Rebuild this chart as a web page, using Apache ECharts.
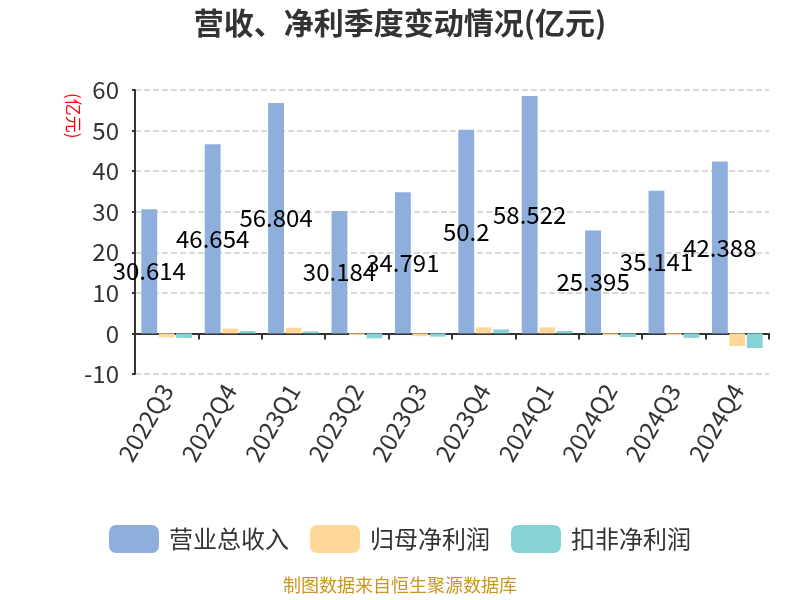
<!DOCTYPE html>
<html>
<head>
<meta charset="utf-8">
<script src="https://cdn.jsdelivr.net/npm/echarts@6/dist/echarts.min.js"></script>
<style>html,body{margin:0;padding:0;background:#fff;}#c{width:800px;height:600px;}</style>
</head>
<body>
<div id="c"></div>
<script>
var categories = ['2022Q3','2022Q4','2023Q1','2023Q2','2023Q3','2023Q4','2024Q1','2024Q2','2024Q3','2024Q4'];
var revenue = [30.614, 46.654, 56.804, 30.184, 34.791, 50.2, 58.522, 25.395, 35.141, 42.388];
var netProfit = [-1.0, 1.2, 1.4, -0.4, -0.7, 1.5, 1.5, -0.4, -0.4, -3.1];
var deductedProfit = [-1.1, 0.6, 0.5, -1.2, -0.8, 1.0, 0.6, -0.9, -1.1, -3.6];
var seriesNames = ['营业总收入', '归母净利润', '扣非净利润'];
var yTicks = {min: -10, max: 60, interval: 10};

var FONT = '"Noto Sans CJK SC", "Noto Sans", sans-serif';
var chart = echarts.init(document.getElementById('c'));
chart.setOption({
  animation: false,
  textStyle: {fontFamily: FONT},
  title: {
    text: '营收、净利季度变动情况(亿元)',
    left: 'center', top: 3,
    textStyle: {fontSize: 30, fontWeight: 'bold', color: '#333', fontFamily: FONT}
  },
  legend: {
    data: seriesNames,
    top: 520, left: 'center',
    itemWidth: 50, itemHeight: 28, itemGap: 21,
    icon: 'roundRect',
    textStyle: {fontSize: 24, color: '#333', fontFamily: FONT, padding: [0, 0, 0, 5]}
  },
  grid: {left: 135, right: 31, top: 90, bottom: 226, containLabel: false},
  xAxis: {
    type: 'category',
    data: categories,
    axisLine: {onZero: true, lineStyle: {color: '#333', width: 2}},
    axisTick: {show: true, length: 6, lineStyle: {color: '#333', width: 2}},
    axisLabel: {rotate: 60, fontSize: 24, color: '#333', margin: 12, fontFamily: FONT}
  },
  yAxis: {
    type: 'value',
    min: yTicks.min, max: yTicks.max, interval: yTicks.interval,
    axisLine: {show: true, lineStyle: {color: '#333', width: 2}},
    axisTick: {show: true, length: 3, lineStyle: {color: '#333', width: 2}},
    axisLabel: {fontSize: 24, color: '#333', margin: 16, fontFamily: FONT},
    splitLine: {show: true, lineStyle: {type: 'dashed', color: '#ccc', width: 1.5}}
  },
  graphic: [
    {
      type: 'text',
      left: 65, top: 93,
      rotation: -Math.PI / 2,
      style: {text: '(亿元)', fill: '#ff0000', fontSize: 17, fontFamily: FONT}
    },
    {
      type: 'text',
      left: 'center', top: 576,
      style: {text: '制图数据来自恒生聚源数据库', fill: '#c8961e', fontSize: 18, fontFamily: FONT}
    }
  ],
  series: [
    {
      name: seriesNames[0], type: 'bar', data: revenue,
      barGap: '10%', barCategoryGap: '20%',
      itemStyle: {color: '#8eaedb'},
      label: {show: true, position: 'inside', fontSize: 24, color: '#000', fontFamily: FONT}
    },
    {
      name: seriesNames[1], type: 'bar', data: netProfit,
      barGap: '10%', barCategoryGap: '20%',
      itemStyle: {color: '#ffd899'}
    },
    {
      name: seriesNames[2], type: 'bar', data: deductedProfit,
      barGap: '10%', barCategoryGap: '20%',
      itemStyle: {color: '#86d3d7'}
    }
  ]
});
</script>
</body>
</html>
